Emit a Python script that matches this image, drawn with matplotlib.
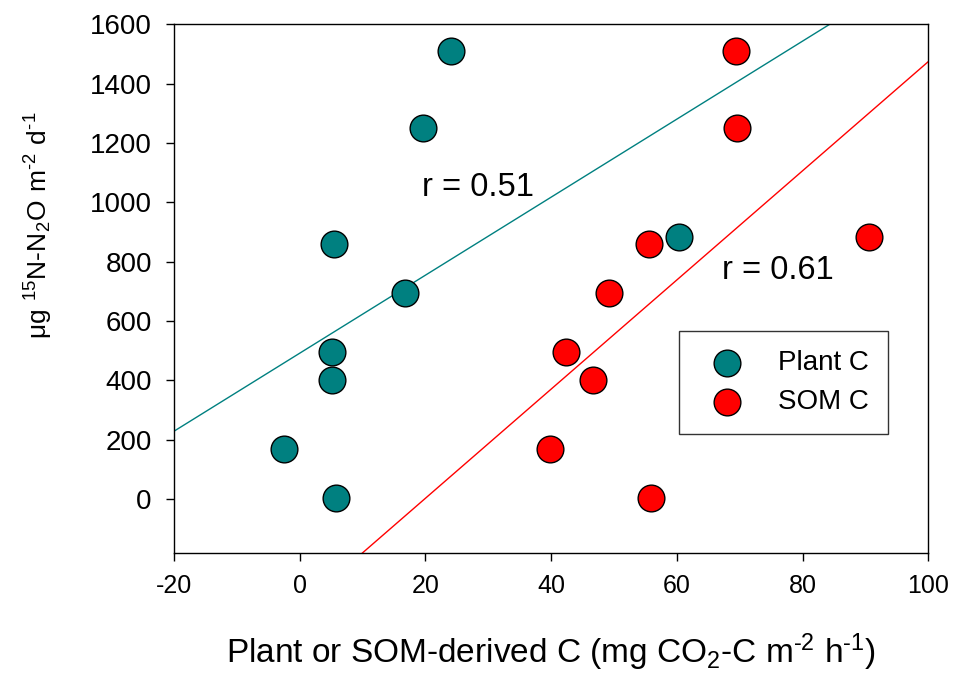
import numpy as np
import matplotlib
matplotlib.use('Agg')
import matplotlib.pyplot as plt

plt.rcParams['font.family'] = ['Liberation Sans', 'DejaVu Sans']
plt.rcParams['axes.unicode_minus'] = False

# N2O flux (same values for both carbon sources)
n2o = [1510, 1250, 859, 694, 495, 401, 168, 3, 882]
# plant-derived C and SOM-derived C
plant_c = [24.1, 19.6, 5.5, 16.8, 5.1, 5.1, -2.5, 5.8, 60.4]
som_c = [69.4, 69.6, 55.6, 49.2, 42.4, 46.7, 39.8, 55.9, 90.6]

teal = '#008080'
red = '#ff0000'
hy = '\u2010'

fig = plt.figure(figsize=(9.56, 6.74), dpi=100)
ax = fig.add_axes([0.182, 0.1795, 0.789, 0.7845])

# regression lines
xx = np.array([-20, 100])
for xs, col in [(plant_c, teal), (som_c, red)]:
    b, a = np.polyfit(xs, n2o, 1)
    ax.plot(xx, a + b * xx, color=col, lw=1, zorder=1)

ax.scatter(plant_c, n2o, s=370, c=teal, edgecolors='black', linewidths=1,
           label='Plant C', zorder=3)
ax.scatter(som_c, n2o, s=370, c=red, edgecolors='black', linewidths=1,
           label='SOM C', zorder=3)

r1 = np.corrcoef(plant_c, n2o)[0, 1]
r2 = np.corrcoef(som_c, n2o)[0, 1]
ax.text(19.5, 1051, 'r = %.2f' % r1, fontsize=23.5, ha='left', va='center')
ax.text(67.2, 771, 'r = %.2f' % r2, fontsize=23.5, ha='left', va='center')

ax.set_xlim(-20, 100)
ax.set_ylim(-182, 1600)
ax.set_xticks(range(-20, 101, 20))
ax.set_yticks(range(0, 1601, 200))
ax.tick_params(direction='out', length=6, width=1, top=False, right=False)
ax.tick_params(axis='y', labelsize=20, pad=10)
ax.tick_params(axis='x', labelsize=18, pad=9)
for sp in ax.spines.values():
    sp.set_linewidth(1)

ax.set_xlabel('Plant or SOM-derived C (mg $\\mathregular{CO_2}$-C m$\\mathregular{^{' + hy + '2}}$ h$\\mathregular{^{' + hy + '1}}$)',
              fontsize=24, labelpad=24)
ax.set_ylabel('$\\mathregular{\\mu g\\ ^{15}N}$-$\\mathregular{N_2O\\ m^{' + hy + '2}\\ d^{' + hy + '1}}$',
              fontsize=19)
ax.yaxis.set_label_coords(-0.158, 0.62)

leg = ax.legend(loc='upper left', bbox_to_anchor=(0.670, 0.420), borderaxespad=0,
                fontsize=20, frameon=True, fancybox=False, edgecolor='black',
                borderpad=0.68, labelspacing=0.47, handletextpad=0.79, handlelength=2.09)
leg.get_frame().set_linewidth(1)

fig.savefig('out.png', dpi=100)
